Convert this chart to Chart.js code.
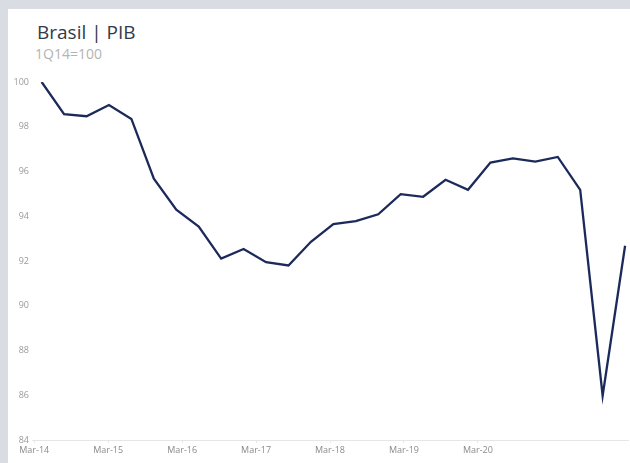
<!DOCTYPE html>
<html>
<head>
<meta charset="utf-8">
<script src="https://cdn.jsdelivr.net/npm/chart.js@4"></script>
<style>
  html, body { margin: 0; padding: 0; }
  body { width: 630px; height: 463px; background: #d9dce2; position: relative; overflow: hidden; font-family: 'Open Sans', sans-serif; }
  #panel { position: absolute; left: 8px; top: 9px; width: 622px; height: 454px; background: #fff; }
  #title { position: absolute; left: 29px; top: 10px; font-size: 19px; color: #323a4b; }
  #sub { position: absolute; left: 27px; top: 35px; font-size: 14px; color: #b3b3b3; }
  #wrap { position: absolute; left: 0; top: 0; width: 622px; height: 454px; }
</style>
</head>
<body>
<div id="panel">
  <div id="title">Brasil | PIB</div>
  <div id="sub">1Q14=100</div>
  <div id="wrap"><canvas id="pib"></canvas></div>
</div>
<script>
// trimestres 1Q14 .. 3Q20
var quarters = ['1Q14','2Q14','3Q14','4Q14','1Q15','2Q15','3Q15','4Q15','1Q16','2Q16','3Q16','4Q16',
                '1Q17','2Q17','3Q17','4Q17','1Q18','2Q18','3Q18','4Q18','1Q19','2Q19','3Q19','4Q19',
                '1Q20','2Q20','3Q20'];
var pib = [100.0, 98.56, 98.47, 98.97, 98.35, 95.68, 94.29, 93.54, 92.11, 92.54, 91.95, 91.80,
           92.86, 93.65, 93.78, 94.09, 94.99, 94.87, 95.63, 95.18, 96.40, 96.59, 96.44, 96.65,
           95.18, 85.98, 92.68];
var tickLabels = ['Mar-14','Mar-15','Mar-16','Mar-17','Mar-18','Mar-19','Mar-20'];
var yTicks = [84, 86, 88, 90, 92, 94, 96, 98, 100];

var pibChart;

function drawChart() {
    const ctx = document.getElementById('pib').getContext('2d');
    if (pibChart) {
        pibChart.destroy();
    }
    pibChart = new Chart(ctx, {
        type: 'line',
        data: {
            datasets: [{
                label: 'PIB',
                data: pib.map(function(v, i) { return { x: i, y: v }; }),
                borderColor: '#1c2a5b',
                borderWidth: 2.3,
                pointRadius: 0,
                tension: 0,
                fill: false,
                xAxisID: 'x'
            }]
        },
        options: {
            responsive: true,
            maintainAspectRatio: false,
            animation: false,
            layout: { padding: { top: 73, right: 2, bottom: 0, left: 0 } },
            plugins: {
                legend: { display: false },
                tooltip: { enabled: false }
            },
            scales: {
                x: {
                    type: 'linear',
                    display: false,
                    min: -0.43,
                    max: 26.13
                },
                xl: {
                    type: 'linear',
                    position: 'bottom',
                    min: -0.03,
                    max: 8.03,
                    afterFit: function(scale) { scale.height = 23; },
                    afterBuildTicks: function(scale) {
                        scale.ticks = tickLabels.map(function(t, i) { return { value: i }; });
                    },
                    border: { display: true, color: '#e6e6e6', width: 1 },
                    grid: { drawOnChartArea: false, drawTicks: true, tickLength: 3, color: '#e6e6e6' },
                    ticks: {
                        autoSkip: false,
                        maxRotation: 0,
                        padding: 2,
                        color: '#8a8a8a',
                        font: { family: 'Open Sans', size: 9 },
                        callback: function(v) { return tickLabels[Math.round(v)]; }
                    }
                },
                y: {
                    min: 84,
                    max: 100,
                    afterFit: function(scale) { scale.width = 24; },
                    afterBuildTicks: function(scale) {
                        scale.ticks = yTicks.map(function(v) { return { value: v }; });
                    },
                    border: { display: false },
                    grid: { display: false, drawTicks: false },
                    ticks: {
                        padding: 3,
                        color: '#9a9a9a',
                        font: { family: 'Open Sans', size: 9 }
                    }
                }
            }
        }
    });
}

drawChart();
</script>
</body>
</html>
